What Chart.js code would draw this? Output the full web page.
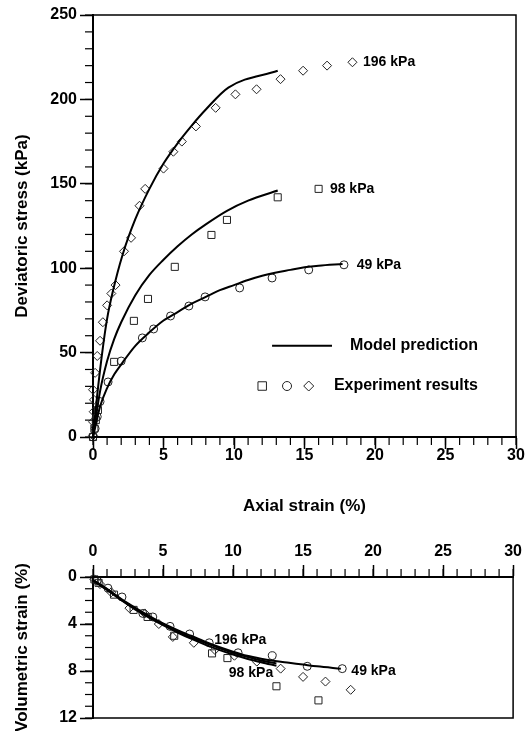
<!DOCTYPE html>
<html>
<head>
<meta charset="utf-8">
<script src="https://cdn.jsdelivr.net/npm/chart.js@4.4.1/dist/chart.umd.min.js"></script>
<style>
  html, body { margin: 0; padding: 0; background: #fff; }
  #page { position: relative; width: 526px; height: 731px; overflow: hidden; }
  .box { position: absolute; left: 0; }
  #top-box { top: 0; }
  #bot-box { top: 530px; }
</style>
</head>
<body>
<div id="page">
  <div class="box" id="top-box"><canvas id="chart-stress" width="526" height="520"></canvas></div>
  <div class="box" id="bot-box"><canvas id="chart-vol" width="526" height="201"></canvas></div>
</div>
<script>
/* Triaxial test: deviatoric stress and volumetric strain vs axial strain */

// ---- deviatoric stress (kPa) vs axial strain (%) ----
const model196X = [0, 0.3, 0.7, 1.0, 1.4, 2.1, 3, 4, 5, 6, 7, 8, 9.6, 13.1];
const model196Y = [0, 25, 53, 70, 86, 108, 129, 147, 162, 174, 184.5, 194, 207, 217];
const model98X = [0, 0.5, 1, 1.5, 2, 3, 4, 5, 6, 7, 8, 9.5, 11, 13.1];
const model98Y = [0, 27, 45, 58, 68, 84, 96, 105, 113, 120, 126, 134, 140, 146];
const model49X = [0, 0.5, 1, 1.5, 2, 3, 4, 5, 6, 7, 8, 9, 10, 11, 12, 13, 14, 15, 16, 17.7];
const model49Y = [0, 18, 29, 37, 43, 54, 62, 69, 74, 79, 83, 87, 90, 93, 95.5, 97.5, 99, 100.5, 101.5, 102.5];

const exp196X = [0, 0, 0.05, 0.07, 0, 0.15, 0.3, 0.5, 0.7, 1.0, 1.3, 1.6, 2.2, 2.7, 3.3, 3.7, 5.0, 5.7, 6.3, 7.3, 8.7, 10.1, 11.6, 13.3, 14.9, 16.6, 18.4];
const exp196Y = [1, 9, 15, 22, 28, 38, 48, 57, 68, 78, 85, 90, 110, 118, 137, 147, 159, 169, 175, 184, 195, 203, 206, 212, 217, 220, 222];
const exp98X = [0, 0.1, 0.2, 0.35, 1.5, 2.9, 3.9, 5.8, 8.4, 9.5, 13.1, 16.0];
const exp98Y = [0, 5, 10, 16, 44.5, 68.8, 81.8, 100.8, 119.7, 128.6, 142, 147];
const exp49X = [0, 0.15, 0.3, 0.5, 1.07, 2.0, 3.5, 4.3, 5.5, 6.8, 7.95, 10.4, 12.7, 15.3, 17.8];
const exp49Y = [0, 5, 12, 21, 32.6, 45, 58.7, 64, 71.7, 77.6, 83, 88.3, 94.2, 99, 102];

// ---- volumetric strain (%) vs axial strain (%) ----
const vol196ModelX = [0, 1, 2, 3, 4, 5, 6, 7, 8, 9, 10, 11, 12, 13.1];
const vol196ModelY = [0.3, 1.05, 1.9, 2.7, 3.4, 4.0, 4.6, 5.15, 5.6, 6.05, 6.45, 6.8, 7.1, 7.35];
const vol98ModelX = [0, 1, 2, 3, 4, 5, 6, 7, 8, 9, 10, 11, 12, 13.1];
const vol98ModelY = [0.3, 1.1, 1.95, 2.75, 3.45, 4.1, 4.7, 5.25, 5.75, 6.2, 6.6, 6.95, 7.25, 7.55];
const vol49ModelX = [0, 1, 2, 3, 4, 5, 6, 7, 8, 9, 10, 11, 12, 13, 14, 15, 16, 17.7];
const vol49ModelY = [0.25, 1.0, 1.85, 2.6, 3.3, 3.95, 4.5, 5.0, 5.5, 5.95, 6.35, 6.7, 6.95, 7.15, 7.3, 7.45, 7.6, 7.8];

const vol196ExpX = [0.1, 0.5, 1.3, 2.6, 3.7, 4.7, 5.7, 7.2, 8.7, 10.1, 11.7, 13.4, 15.0, 16.6, 18.4];
const vol196ExpY = [0.2, 0.6, 1.3, 2.65, 3.1, 4.0, 5.1, 5.6, 6.2, 6.7, 7.2, 7.8, 8.5, 8.9, 9.6];
const vol98ExpX = [0.1, 0.4, 1.5, 2.9, 3.9, 5.8, 8.5, 9.6, 13.1, 16.1];
const vol98ExpY = [0.2, 0.5, 1.5, 2.8, 3.4, 5.0, 6.5, 6.9, 9.3, 10.5];
const vol49ExpX = [0.3, 1.07, 2.07, 3.56, 4.27, 5.5, 6.9, 8.3, 10.36, 12.8, 15.3, 17.8];
const vol49ExpY = [0.3, 0.95, 1.7, 3.1, 3.4, 4.2, 4.85, 5.6, 6.45, 6.7, 7.6, 7.8];

// tick values
const strainTicks = [0, 5, 10, 15, 20, 25, 30];
const stressTicks = [0, 50, 100, 150, 200, 250];
const volTicks = [0, 4, 8, 12];

const FONT = "'Liberation Sans', Arial, sans-serif";
const INK = "#000";

Chart.defaults.font.family = FONT;
Chart.defaults.font.weight = "bold";
Chart.defaults.color = INK;

const pts = (xs, ys) => xs.map((x, i) => ({ x, y: ys[i] }));

function modelSet(xs, ys) {
  return {
    data: pts(xs, ys),
    showLine: true,
    borderColor: INK,
    borderWidth: 2,
    pointRadius: 0,
    cubicInterpolationMode: "monotone",
    clip: false,
  };
}

function expSet(xs, ys, style, r) {
  return {
    data: pts(xs, ys),
    showLine: false,
    pointStyle: style,
    pointRadius: r,
    borderWidth: 1,
    borderColor: "#222",
    backgroundColor: "rgba(255,255,255,0)",
    clip: false,
  };
}

// short unlabelled ticks between the major ones
const minorTicks = {
  id: "minorTicks",
  afterDraw(chart, args, opts) {
    const ctx = chart.ctx;
    ctx.save();
    ctx.strokeStyle = INK;
    ctx.lineWidth = 1.2;
    Object.entries(opts.scales || {}).forEach(([id, cfg]) => {
      const s = chart.scales[id];
      for (let v = s.min; v <= s.max + 1e-9; v += cfg.step) {
        const p = s.getPixelForValue(v);
        ctx.beginPath();
        if (s.isHorizontal()) {
          const up = s.position === "top";
          const y0 = up ? s.bottom : s.top;
          ctx.moveTo(p, y0);
          ctx.lineTo(p, y0 + (up ? -cfg.len : cfg.len));
        } else {
          ctx.moveTo(s.right, p);
          ctx.lineTo(s.right - cfg.len, p);
        }
        ctx.stroke();
      }
    });
    ctx.restore();
  },
};

// closes the plot box on top and right
const frame = {
  id: "frame",
  afterDraw(chart) {
    const { ctx, chartArea: a } = chart;
    ctx.save();
    ctx.strokeStyle = INK;
    ctx.lineWidth = 1.5;
    ctx.beginPath();
    ctx.moveTo(a.left, a.top);
    ctx.lineTo(a.right, a.top);
    ctx.lineTo(a.right, a.bottom);
    ctx.lineTo(a.left, a.bottom);
    ctx.stroke();
    ctx.restore();
  },
};

// series labels and legend, placed in data coordinates
const notes = {
  id: "notes",
  afterDraw(chart, args, opts) {
    const { ctx, scales } = chart;
    const X = scales.x, Y = scales.y;
    ctx.save();
    ctx.fillStyle = INK;
    ctx.textBaseline = "middle";
    (opts.items || []).forEach((n) => {
      ctx.font = `bold ${n.size || 14}px ${FONT}`;
      ctx.textAlign = n.align || "left";
      ctx.fillText(n.text, X.getPixelForValue(n.x), Y.getPixelForValue(n.y));
    });
    (opts.lines || []).forEach((l) => {
      ctx.strokeStyle = INK;
      ctx.lineWidth = 2;
      ctx.beginPath();
      ctx.moveTo(X.getPixelForValue(l.x0), Y.getPixelForValue(l.y));
      ctx.lineTo(X.getPixelForValue(l.x1), Y.getPixelForValue(l.y));
      ctx.stroke();
    });
    (opts.marks || []).forEach((m) => {
      ctx.strokeStyle = "#222";
      ctx.fillStyle = "rgba(255,255,255,0)";
      ctx.lineWidth = 1;
      Chart.helpers.drawPoint(ctx, { pointStyle: m.style, radius: m.r, borderWidth: 1 },
        X.getPixelForValue(m.x), Y.getPixelForValue(m.y));
    });
    ctx.restore();
  },
};

function axisX(position, extra) {
  return Object.assign({
    type: "linear",
    position,
    min: 0,
    max: 30,
    afterBuildTicks: (s) => { s.ticks = strainTicks.map((v) => ({ value: v })); },
    ticks: { font: { size: 16, weight: "bold" }, color: INK },
    grid: { drawOnChartArea: false, drawTicks: true, tickLength: 12, tickWidth: 1.5, tickColor: INK },
    border: { display: true, color: INK, width: 2 },
  }, extra);
}

function axisY(title, ticks, extra) {
  return Object.assign({
    type: "linear",
    afterBuildTicks: (s) => { s.ticks = ticks.map((v) => ({ value: v })); },
    afterFit: (s) => { s.width = 93; },
    ticks: { font: { size: 16, weight: "bold" }, color: INK, padding: 3 },
    grid: { drawOnChartArea: false, drawTicks: true, tickLength: 13, tickWidth: 1.5, tickColor: INK },
    border: { display: true, color: INK, width: 2 },
    title: {
      display: true,
      text: title,
      color: INK,
      font: { size: 17, weight: "bold" },
      padding: { top: 12, bottom: 0 },
    },
  }, extra);
}

const baseOpts = {
  responsive: false,
  animation: false,
  events: [],
};

new Chart(document.getElementById("chart-stress"), {
  type: "scatter",
  data: {
    datasets: [
      modelSet(model196X, model196Y),
      modelSet(model98X, model98Y),
      modelSet(model49X, model49Y),
      expSet(exp196X, exp196Y, "rectRot", 4.5),
      expSet(exp98X, exp98Y, "rect", 5),
      expSet(exp49X, exp49Y, "circle", 4),
    ],
  },
  options: {
    ...baseOpts,
    layout: { padding: { top: 15, right: 10, bottom: 0, left: 0 } },
    plugins: {
      legend: { display: false },
      tooltip: { enabled: false },
      minorTicks: { scales: { x: { step: 1, len: 8 }, y: { step: 10, len: 8 } } },
      notes: {
        items: [
          { text: "196 kPa", x: 19.15, y: 222 },
          { text: "98 kPa", x: 16.8, y: 147 },
          { text: "49 kPa", x: 18.7, y: 102 },
          { text: "Model prediction", x: 27.3, y: 54, size: 16, align: "right" },
          { text: "Experiment results", x: 27.3, y: 30.2, size: 16, align: "right" },
        ],
        lines: [{ x0: 12.7, x1: 16.95, y: 54 }],
        marks: [
          { style: "rect", r: 6, x: 12.0, y: 30.2 },
          { style: "circle", r: 4.5, x: 13.76, y: 30.2 },
          { style: "rectRot", r: 5, x: 15.3, y: 30.2 },
        ],
      },
    },
    scales: {
      x: axisX("bottom", {
        afterFit: (s) => { s.height = 83; },
        ticks: { font: { size: 16, weight: "bold" }, color: INK, padding: -3, maxRotation: 0 },
        title: {
          display: true,
          text: "Axial strain (%)",
          color: INK,
          font: { size: 17, weight: "bold" },
          padding: { top: 0, bottom: 3 },
        },
      }),
      y: axisY("Deviatoric stress (kPa)", stressTicks, { min: 0, max: 250 }),
    },
  },
  plugins: [minorTicks, frame, notes],
});

new Chart(document.getElementById("chart-vol"), {
  type: "scatter",
  data: {
    datasets: [
      modelSet(vol196ModelX, vol196ModelY),
      modelSet(vol98ModelX, vol98ModelY),
      modelSet(vol49ModelX, vol49ModelY),
      expSet(vol196ExpX, vol196ExpY, "rectRot", 4.5),
      expSet(vol98ExpX, vol98ExpY, "rect", 5),
      expSet(vol49ExpX, vol49ExpY, "circle", 4),
    ],
  },
  options: {
    ...baseOpts,
    layout: { padding: { top: 0, right: 10, bottom: 13, left: 0 } },
    plugins: {
      legend: { display: false },
      tooltip: { enabled: false },
      minorTicks: { scales: { x: { step: 1, len: 8 }, y: { step: 1, len: 8 } } },
      notes: {
        items: [
          { text: "196 kPa", x: 8.65, y: 5.4 },
          { text: "98 kPa", x: 9.7, y: 8.2 },
          { text: "49 kPa", x: 18.45, y: 8.0 },
        ],
      },
    },
    scales: {
      x: axisX("top", {
        afterFit: (s) => { s.height = 47; },
        ticks: { font: { size: 16, weight: "bold" }, color: INK, padding: 4, maxRotation: 0 },
      }),
      y: axisY("Volumetric strain (%)", volTicks, { min: 0, max: 12, reverse: true }),
    },
  },
  plugins: [minorTicks, frame, notes],
});
</script>
</body>
</html>
